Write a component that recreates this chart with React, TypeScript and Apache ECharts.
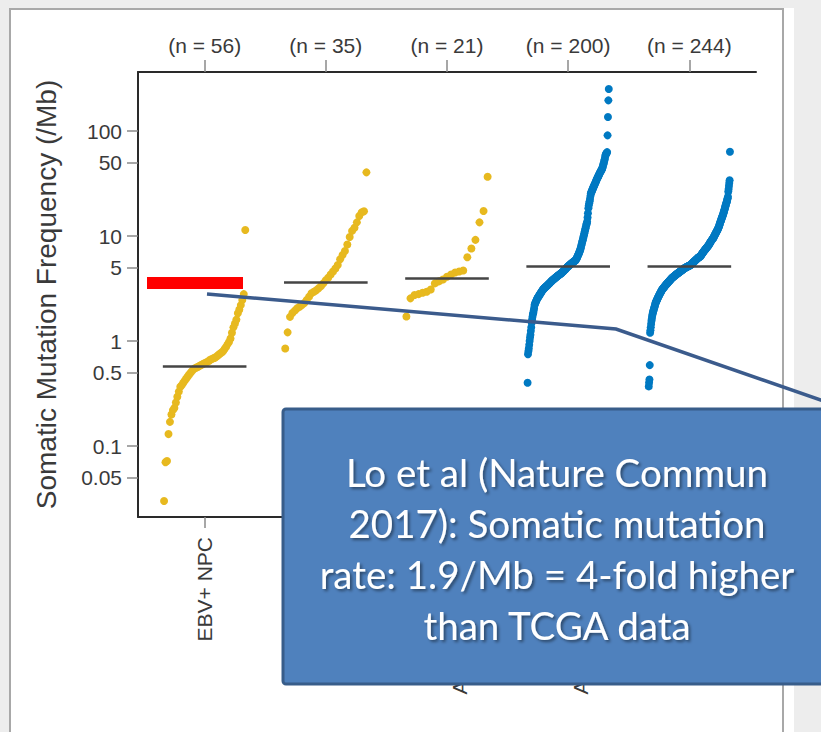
import React, { useEffect, useRef } from "react";
import * as echarts from "echarts";

// ---------- data ----------
const groupLabels = ["EBV+ NPC", "", "\nAdenocarcinoma", "\nAdenocarcinoma", ""];
const countLabels = ["(n = 56)", "(n = 35)", "(n = 21)", "(n = 200)", "(n = 244)"];
const yTickValues = [0.05, 0.1, 0.5, 1, 5, 10, 50, 100];
const yTickLabels = ["0.05", "0.1", "0.5", "1", "5", "10", "50", "100"];
const yRange = [0.0211, 365];
const medians = [0.578, 3.62, 3.98, 5.1, 5.2];

const ebvNpc = [
  0.03, 0.07, 0.072, 0.13, 0.17, 0.2, 0.22, 0.23, 0.26, 0.295, 0.33, 0.367,
  0.38, 0.4, 0.42, 0.44, 0.46, 0.48, 0.5, 0.52,
  0.54, 0.55, 0.56, 0.57, 0.58, 0.59, 0.6, 0.61, 0.62, 0.63, 0.64, 0.66,
  0.67, 0.68, 0.69, 0.7, 0.72, 0.74, 0.76, 0.78, 0.8, 0.84, 0.88,
  0.93, 0.98, 1.06,
  1.2, 1.35, 1.47, 1.6, 1.84, 2.0, 2.2, 2.46, 2.8,
  11.4,
];
const group35 = [
  0.85, 1.21, 1.7, 1.85, 1.95, 2.05, 2.12, 2.2, 2.3, 2.46, 2.65, 2.85, 2.95, 3.05,
  3.18, 3.35, 3.55, 3.8, 4.0, 4.3, 4.6, 4.9, 5.3, 6.0, 6.6, 7.2, 8.3, 9.8, 11.2,
  12.0, 13.5, 15.5, 16.8, 17.2, 40.4,
];
const group21 = [
  1.71, 2.55, 2.74, 2.8, 2.88, 2.95, 3.1, 3.54, 3.7, 3.86, 4.1, 4.3, 4.5, 4.6, 4.7,
  6.27, 7.6, 9.2, 13.5, 17.3, 36.7,
];
const group200 = [
  0.4,
  0.75, 0.8, 0.85, 0.92, 1.0, 1.08, 1.15, 1.25, 1.35, 1.5,
  1.6, 1.7, 1.8, 1.85, 1.95, 2.05, 2.2,
  2.25, 2.3, 2.35, 2.4, 2.45, 2.5, 2.55, 2.6, 2.62, 2.66, 2.7, 2.74,
  2.78, 2.82, 2.86, 2.9, 2.94, 2.98, 3.02, 3.06, 3.1, 3.13, 3.16, 3.19, 3.22, 3.25, 3.27, 3.29,
  3.32, 3.35, 3.38, 3.41, 3.44, 3.47, 3.5, 3.53, 3.56, 3.6, 3.63, 3.66, 3.7, 3.73, 3.77, 3.8,
  3.82, 3.85, 3.88, 3.91, 3.94, 3.97, 4.0, 4.03, 4.06, 4.09, 4.12, 4.15, 4.18, 4.21, 4.24, 4.27, 4.3, 4.33, 4.36, 4.38, 4.4,
  4.44, 4.48, 4.52, 4.56, 4.6, 4.64, 4.68, 4.72, 4.76, 4.8, 4.85, 4.9, 4.95, 5.0, 5.05, 5.1,
  5.14, 5.18, 5.22, 5.26, 5.3, 5.34, 5.38, 5.42, 5.46, 5.5, 5.54, 5.58, 5.62, 5.66, 5.7, 5.74, 5.78, 5.82, 5.86, 5.9,
  6.0, 6.1, 6.2, 6.35, 6.5, 6.6, 6.75, 6.9, 7.05, 7.2, 7.4, 7.6,
  7.9, 8.2, 8.5, 8.8, 9.1, 9.5, 9.8, 10.2,
  10.6, 11.0, 11.4, 11.8, 12.3, 12.8, 13.2, 13.7,
  15, 16.5, 18.4,
  19.5, 20.5, 21.5, 22.5, 24, 25.4,
  26, 26.6, 27.2, 27.8, 28.4, 29, 29.6, 30.2, 30.8, 31.4, 32, 32.8,
  33.5, 34.2, 34.9, 35.6, 36.3, 37, 37.7, 38.4, 39.1, 39.8, 40.5, 41.2, 41.9, 42.6, 43.3, 44,
  45.5, 47, 48.5, 50, 52, 54, 56.5, 59,
  60, 61, 62, 63,
  91, 136, 196, 251,
];
const group244 = [
  0.37, 0.4, 0.43, 0.59,
  1.2, 1.27, 1.35, 1.45, 1.55, 1.62, 1.71,
  1.78, 1.85, 1.9, 1.95, 2.0, 2.05, 2.1, 2.16, 2.22, 2.29,
  2.33, 2.37, 2.41, 2.45, 2.49, 2.53, 2.57, 2.61, 2.65, 2.69, 2.73, 2.77, 2.81, 2.85, 2.89, 2.93, 2.97, 3.02, 3.06,
  3.09, 3.12, 3.15, 3.18, 3.21, 3.24, 3.27, 3.3, 3.33, 3.36, 3.39, 3.42, 3.45, 3.48, 3.51, 3.54, 3.57, 3.6, 3.63, 3.66, 3.69, 3.72, 3.75, 3.78, 3.81, 3.84, 3.87, 3.91, 3.95,
  3.97, 4.0, 4.02, 4.05, 4.07, 4.1, 4.12, 4.15, 4.17, 4.2, 4.22, 4.25, 4.27, 4.3, 4.32, 4.35, 4.37, 4.4, 4.42, 4.45, 4.47, 4.5, 4.52, 4.55, 4.57, 4.6, 4.62, 4.65, 4.67, 4.7, 4.72, 4.75, 4.77, 4.8, 4.83, 4.86, 4.89, 4.92,
  4.94, 4.96, 4.98, 5.0, 5.02, 5.04, 5.06, 5.08, 5.1, 5.12, 5.14, 5.16, 5.18, 5.2, 5.22, 5.24, 5.26, 5.28, 5.3,
  5.33, 5.37, 5.41, 5.45, 5.49, 5.53, 5.57, 5.61, 5.65, 5.69, 5.73, 5.77, 5.81, 5.85, 5.89, 5.93, 5.97, 6.01, 6.05, 6.09, 6.13, 6.17, 6.21, 6.25, 6.28, 6.31, 6.33, 6.35,
  6.4, 6.47, 6.54, 6.61, 6.68, 6.75, 6.82, 6.89, 6.96, 7.03, 7.1, 7.17, 7.24, 7.31, 7.38, 7.45, 7.52, 7.59, 7.66, 7.73, 7.8, 7.87, 7.94, 8.01, 8.08, 8.15, 8.25, 8.38, 8.5,
  8.6, 8.7, 8.8, 8.9, 9.0, 9.1, 9.2, 9.3, 9.4, 9.5, 9.6, 9.7, 9.85, 10.0, 10.15, 10.3, 10.45, 10.6, 10.75, 10.9, 11.05, 11.2, 11.35, 11.5, 11.7, 11.9, 12.1, 12.3,
  12.6, 12.9, 13.2, 13.5, 13.8, 14.1, 14.4, 14.7, 15.0, 15.3, 15.6, 15.9, 16.3, 16.7, 17.1, 17.5, 18.0, 18.5, 19.0,
  19.5, 20, 20.5, 21, 21.6, 22.2, 22.9, 23.7,
  26.5, 28, 30, 32, 34, 63.5,
];
const groups = [ebvNpc, group35, group21, group200, group244];
const groupColors = ["#E7B91F", "#E7B91F", "#E7B91F", "#0079C2", "#0079C2"];
const yAxisTitle = "Somatic Mutation Frequency (/Mb)";
const calloutLines = [
  "Lo et al (Nature Commun",
  "2017): Somatic mutation",
  "rate: 1.9/Mb = 4-fold higher",
  "than TCGA data",
];

const SPREAD = 0.335;
const HALF_MEDIAN = 0.345;
const labelFont = "'Liberation Sans', Arial, Helvetica, sans-serif";

export default function App() {
  const ref = useRef<HTMLDivElement>(null);

  useEffect(() => {
    if (!ref.current) return;
    const chart = echarts.init(ref.current, undefined, { renderer: "svg" });

    const scatterSeries = groups.map((vals, g) => ({
      type: "scatter",
      xAxisIndex: 0,
      yAxisIndex: 0,
      symbol: "circle",
      symbolSize: 8,
      itemStyle: { color: groupColors[g], opacity: 1 },
      z: 2,
      data: vals.map((v, i) => [
        g - SPREAD + (2 * SPREAD * i) / (vals.length - 1),
        Math.log10(v),
      ]),
    }));

    const medianSeries = {
      type: "lines",
      coordinateSystem: "cartesian2d",
      xAxisIndex: 0,
      yAxisIndex: 0,
      z: 4,
      lineStyle: { color: "#454545", width: 2.5, opacity: 1 },
      data: medians.map((m, g) => ({
        coords: [
          [g - HALF_MEDIAN, Math.log10(m)],
          [g + HALF_MEDIAN, Math.log10(m)],
        ],
      })),
    };

    const yLabelFor = (v: number) => {
      const idx = yTickValues.findIndex((t) => Math.abs(Math.log10(t) - v) < 1e-6);
      return idx >= 0 ? yTickLabels[idx] : "";
    };

    const catIdx = [0, 1, 2, 3, 4];

    const option: any = {
      animation: false,
      backgroundColor: "#EDEDED",
      grid: { left: 138, right: 65, top: 72, bottom: 215, containLabel: false },
      xAxis: [
        {
          type: "value",
          position: "bottom",
          min: -0.55,
          max: 4.55,
          axisLine: { show: true, onZero: false, lineStyle: { color: "#2a2a2a", width: 2 } },
          axisTick: {
            show: true,
            customValues: catIdx,
            length: 11,
            lineStyle: { color: "#8a8a8a", width: 1.5 },
          },
          axisLabel: {
            customValues: catIdx,
            rotate: 90,
            margin: 20,
            fontSize: 21,
            lineHeight: 24,
            color: "#3a3a3a",
            fontFamily: labelFont,
            formatter: (v: number) => groupLabels[Math.round(v)],
          },
          splitLine: { show: false },
        },
        {
          type: "value",
          position: "top",
          min: -0.55,
          max: 4.55,
          axisLine: { show: true, onZero: false, lineStyle: { color: "#2a2a2a", width: 2 } },
          axisTick: {
            show: true,
            customValues: catIdx,
            length: 12,
            lineStyle: { color: "#8a8a8a", width: 1.5 },
          },
          axisLabel: {
            customValues: catIdx,
            margin: 16,
            fontSize: 21,
            color: "#3a3a3a",
            fontFamily: labelFont,
            formatter: (v: number) => countLabels[Math.round(v)],
          },
          splitLine: { show: false },
        },
      ],
      yAxis: {
        type: "value",
        position: "left",
        min: Math.log10(yRange[0]),
        max: Math.log10(yRange[1]),
        name: yAxisTitle,
        nameLocation: "middle",
        nameGap: 78,
        nameTextStyle: { fontSize: 28, color: "#3a3a3a", fontFamily: labelFont },
        axisLine: { show: true, onZero: false, lineStyle: { color: "#2a2a2a", width: 2 } },
        axisTick: {
          show: true,
          customValues: yTickValues.map((t) => Math.log10(t)),
          length: 11,
          lineStyle: { color: "#8a8a8a", width: 1.5 },
        },
        axisLabel: {
          customValues: yTickValues.map((t) => Math.log10(t)),
          margin: 16,
          fontSize: 21,
          color: "#3a3a3a",
          fontFamily: labelFont,
          formatter: (v: number) => yLabelFor(v),
        },
        splitLine: { show: false },
      },
      graphic: [
        {
          type: "rect",
          z: -20,
          silent: true,
          shape: { x: 9, y: 8, width: 785, height: 740 },
          style: { fill: "#FFFFFF" },
        },
        {
          type: "rect",
          z: -19,
          silent: true,
          shape: { x: 10, y: 9, width: 773, height: 740 },
          style: { fill: "none", stroke: "#A8A8A8", lineWidth: 2 },
        },
        {
          type: "rect",
          z: 50,
          silent: true,
          shape: { x: 147, y: 277, width: 96, height: 12 },
          style: { fill: "#FF0000" },
        },
        {
          type: "polyline",
          z: 50,
          silent: true,
          shape: { points: [[207, 294], [616, 329], [832, 404]] },
          style: { stroke: "#3B5B8C", lineWidth: 3.5, fill: "none" },
        },
        {
          type: "rect",
          z: 60,
          silent: true,
          shape: { x: 283, y: 409, width: 560, height: 275, r: 3 },
          style: { fill: "#4F81BD", stroke: "#385D8A", lineWidth: 3 },
        },
        {
          type: "text",
          z: 61,
          silent: true,
          x: 557,
          y: 548,
          style: {
            text: calloutLines.join("\n"),
            fill: "#FFFFFF",
            font: "38.5px Lato, 'Open Sans', sans-serif",
            lineHeight: 51,
            align: "center",
            verticalAlign: "middle",
            textShadowColor: "rgba(0,0,0,0.45)",
            textShadowBlur: 3,
            textShadowOffsetX: 2,
            textShadowOffsetY: 2,
          },
        },
      ],
      series: [...scatterSeries, medianSeries],
    };

    chart.setOption(option);
    return () => chart.dispose();
  }, []);

  return (
    <div
      ref={ref}
      style={{ position: "fixed", left: 0, top: 0, width: 821, height: 732 }}
    />
  );
}
